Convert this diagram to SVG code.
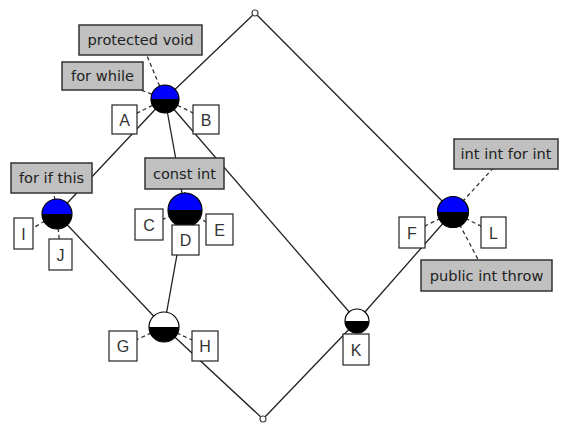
<svg xmlns="http://www.w3.org/2000/svg" width="564" height="423" viewBox="0 0 564 423">
<style>
.e{stroke:#222;stroke-width:1.3;fill:none}
.d{stroke:#333;stroke-width:1.3;fill:none;stroke-dasharray:4 3}
.ring{fill:none;stroke:#000;stroke-width:1.2}
.lb{fill:#c0c0c0;stroke:#333;stroke-width:1.5}
.lt{font-family:"DejaVu Sans",sans-serif;font-size:14.6px;fill:#222;text-anchor:middle}
.bx{fill:#fff;stroke:#222;stroke-width:1.2}
.bt{font-family:"Liberation Sans",Arial,sans-serif;font-size:16px;fill:#333;text-anchor:middle}
.end{fill:#fff;stroke:#444;stroke-width:1.2}
</style>
<rect width="564" height="423" fill="#fff"/>
<g id="connectors">
<line class="e" x1="255" y1="13" x2="165" y2="99"/>
<line class="e" x1="255" y1="13" x2="453" y2="212"/>
<line class="e" x1="165" y1="99" x2="57" y2="214"/>
<line class="e" x1="165" y1="99" x2="185" y2="210"/>
<line class="e" x1="165" y1="99" x2="357" y2="321"/>
<line class="e" x1="57" y1="214" x2="164" y2="327"/>
<line class="e" x1="185" y1="210" x2="164" y2="327"/>
<line class="e" x1="453" y1="212" x2="357" y2="321"/>
<line class="e" x1="357" y1="321" x2="263" y2="419"/>
<line class="e" x1="164" y1="327" x2="263" y2="419"/>
<line class="d" x1="165" y1="99" x2="140.5" y2="40"/>
<line class="d" x1="165" y1="99" x2="102.5" y2="76"/>
<line class="d" x1="165" y1="99" x2="124.5" y2="119.5"/>
<line class="d" x1="165" y1="99" x2="206" y2="119.5"/>
<line class="d" x1="57" y1="214" x2="51.5" y2="178"/>
<line class="d" x1="57" y1="214" x2="23.5" y2="233.5"/>
<line class="d" x1="57" y1="214" x2="60.5" y2="254.5"/>
<line class="d" x1="185" y1="210" x2="184.5" y2="173.5"/>
<line class="d" x1="185" y1="210" x2="149" y2="225"/>
<line class="d" x1="185" y1="210" x2="185.5" y2="240"/>
<line class="d" x1="185" y1="210" x2="219.5" y2="229.5"/>
<line class="d" x1="164" y1="327" x2="123" y2="346"/>
<line class="d" x1="164" y1="327" x2="205" y2="346"/>
<line class="d" x1="357" y1="321" x2="356" y2="349.5"/>
<line class="d" x1="453" y1="212" x2="412" y2="232.5"/>
<line class="d" x1="453" y1="212" x2="493.5" y2="232.5"/>
<line class="d" x1="453" y1="212" x2="506" y2="154"/>
<line class="d" x1="453" y1="212" x2="486.5" y2="275.5"/>
</g>
<g id="top"><circle class="end" cx="255" cy="13" r="3"/></g>
<g id="bottom"><circle class="end" cx="263" cy="419" r="3"/></g>
<g id="n1">
<path d="M151,99 A14,14 0 0 1 179,99 Z" fill="#0000ff"/>
<path d="M151,99 A14,14 0 0 0 179,99 Z" fill="#000"/>
<circle class="ring" cx="165" cy="99" r="14"/>
<rect class="lb" x="79" y="25" width="123" height="30"/><text class="lt" x="140.5" y="45">protected void</text>
<rect class="lb" x="62" y="62" width="81" height="28"/><text class="lt" x="102.5" y="81">for while</text>
<rect class="bx" x="112" y="105" width="25" height="29"/><text class="bt" x="124.5" y="125.5">A</text>
<rect class="bx" x="193" y="105" width="26" height="29"/><text class="bt" x="206" y="125.5">B</text>
</g>
<g id="n2">
<path d="M42,214 A15,15 0 0 1 72,214 Z" fill="#0000ff"/>
<path d="M42,214 A15,15 0 0 0 72,214 Z" fill="#000"/>
<circle class="ring" cx="57" cy="214" r="15"/>
<rect class="lb" x="11" y="163" width="81" height="30"/><text class="lt" x="51.5" y="183">for if this</text>
<rect class="bx" x="14" y="218" width="19" height="31"/><text class="bt" x="23.5" y="239.5">I</text>
<rect class="bx" x="49" y="239" width="23" height="31"/><text class="bt" x="60.5" y="260.5">J</text>
</g>
<g id="n3">
<path d="M168,210 A17,17 0 0 1 202,210 Z" fill="#0000ff"/>
<path d="M168,210 A17,17 0 0 0 202,210 Z" fill="#000"/>
<circle class="ring" cx="185" cy="210" r="17"/>
<rect class="lb" x="145" y="158" width="79" height="31"/><text class="lt" x="184.5" y="178.5">const int</text>
<rect class="bx" x="135" y="209" width="28" height="31"/><text class="bt" x="149" y="230.5">C</text>
<rect class="bx" x="172" y="225" width="27" height="30"/><text class="bt" x="185.5" y="246">D</text>
<rect class="bx" x="206" y="214" width="27" height="31"/><text class="bt" x="219.5" y="235.5">E</text>
</g>
<g id="n4">
<path d="M149,327 A15,15 0 0 1 179,327 Z" fill="#fff"/>
<path d="M149,327 A15,15 0 0 0 179,327 Z" fill="#000"/>
<circle class="ring" cx="164" cy="327" r="15"/>
<rect class="bx" x="109" y="331" width="28" height="30"/><text class="bt" x="123" y="352">G</text>
<rect class="bx" x="192" y="331" width="26" height="30"/><text class="bt" x="205" y="352">H</text>
</g>
<g id="n5">
<path d="M345,321 A12,12 0 0 1 369,321 Z" fill="#fff"/>
<path d="M345,321 A12,12 0 0 0 369,321 Z" fill="#000"/>
<circle class="ring" cx="357" cy="321" r="12"/>
<rect class="bx" x="343" y="334" width="26" height="31"/><text class="bt" x="356" y="355.5">K</text>
</g>
<g id="n6">
<path d="M437.5,212 A15.5,15.5 0 0 1 468.5,212 Z" fill="#0000ff"/>
<path d="M437.5,212 A15.5,15.5 0 0 0 468.5,212 Z" fill="#000"/>
<circle class="ring" cx="453" cy="212" r="15.5"/>
<rect class="lb" x="454" y="139" width="104" height="30"/><text class="lt" x="506" y="159">int int for int</text>
<rect class="lb" x="421" y="260" width="131" height="31"/><text class="lt" x="486.5" y="280.5">public int throw</text>
<rect class="bx" x="399" y="217" width="26" height="31"/><text class="bt" x="412" y="238.5">F</text>
<rect class="bx" x="481" y="217" width="25" height="31"/><text class="bt" x="493.5" y="238.5">L</text>
</g>
</svg>
